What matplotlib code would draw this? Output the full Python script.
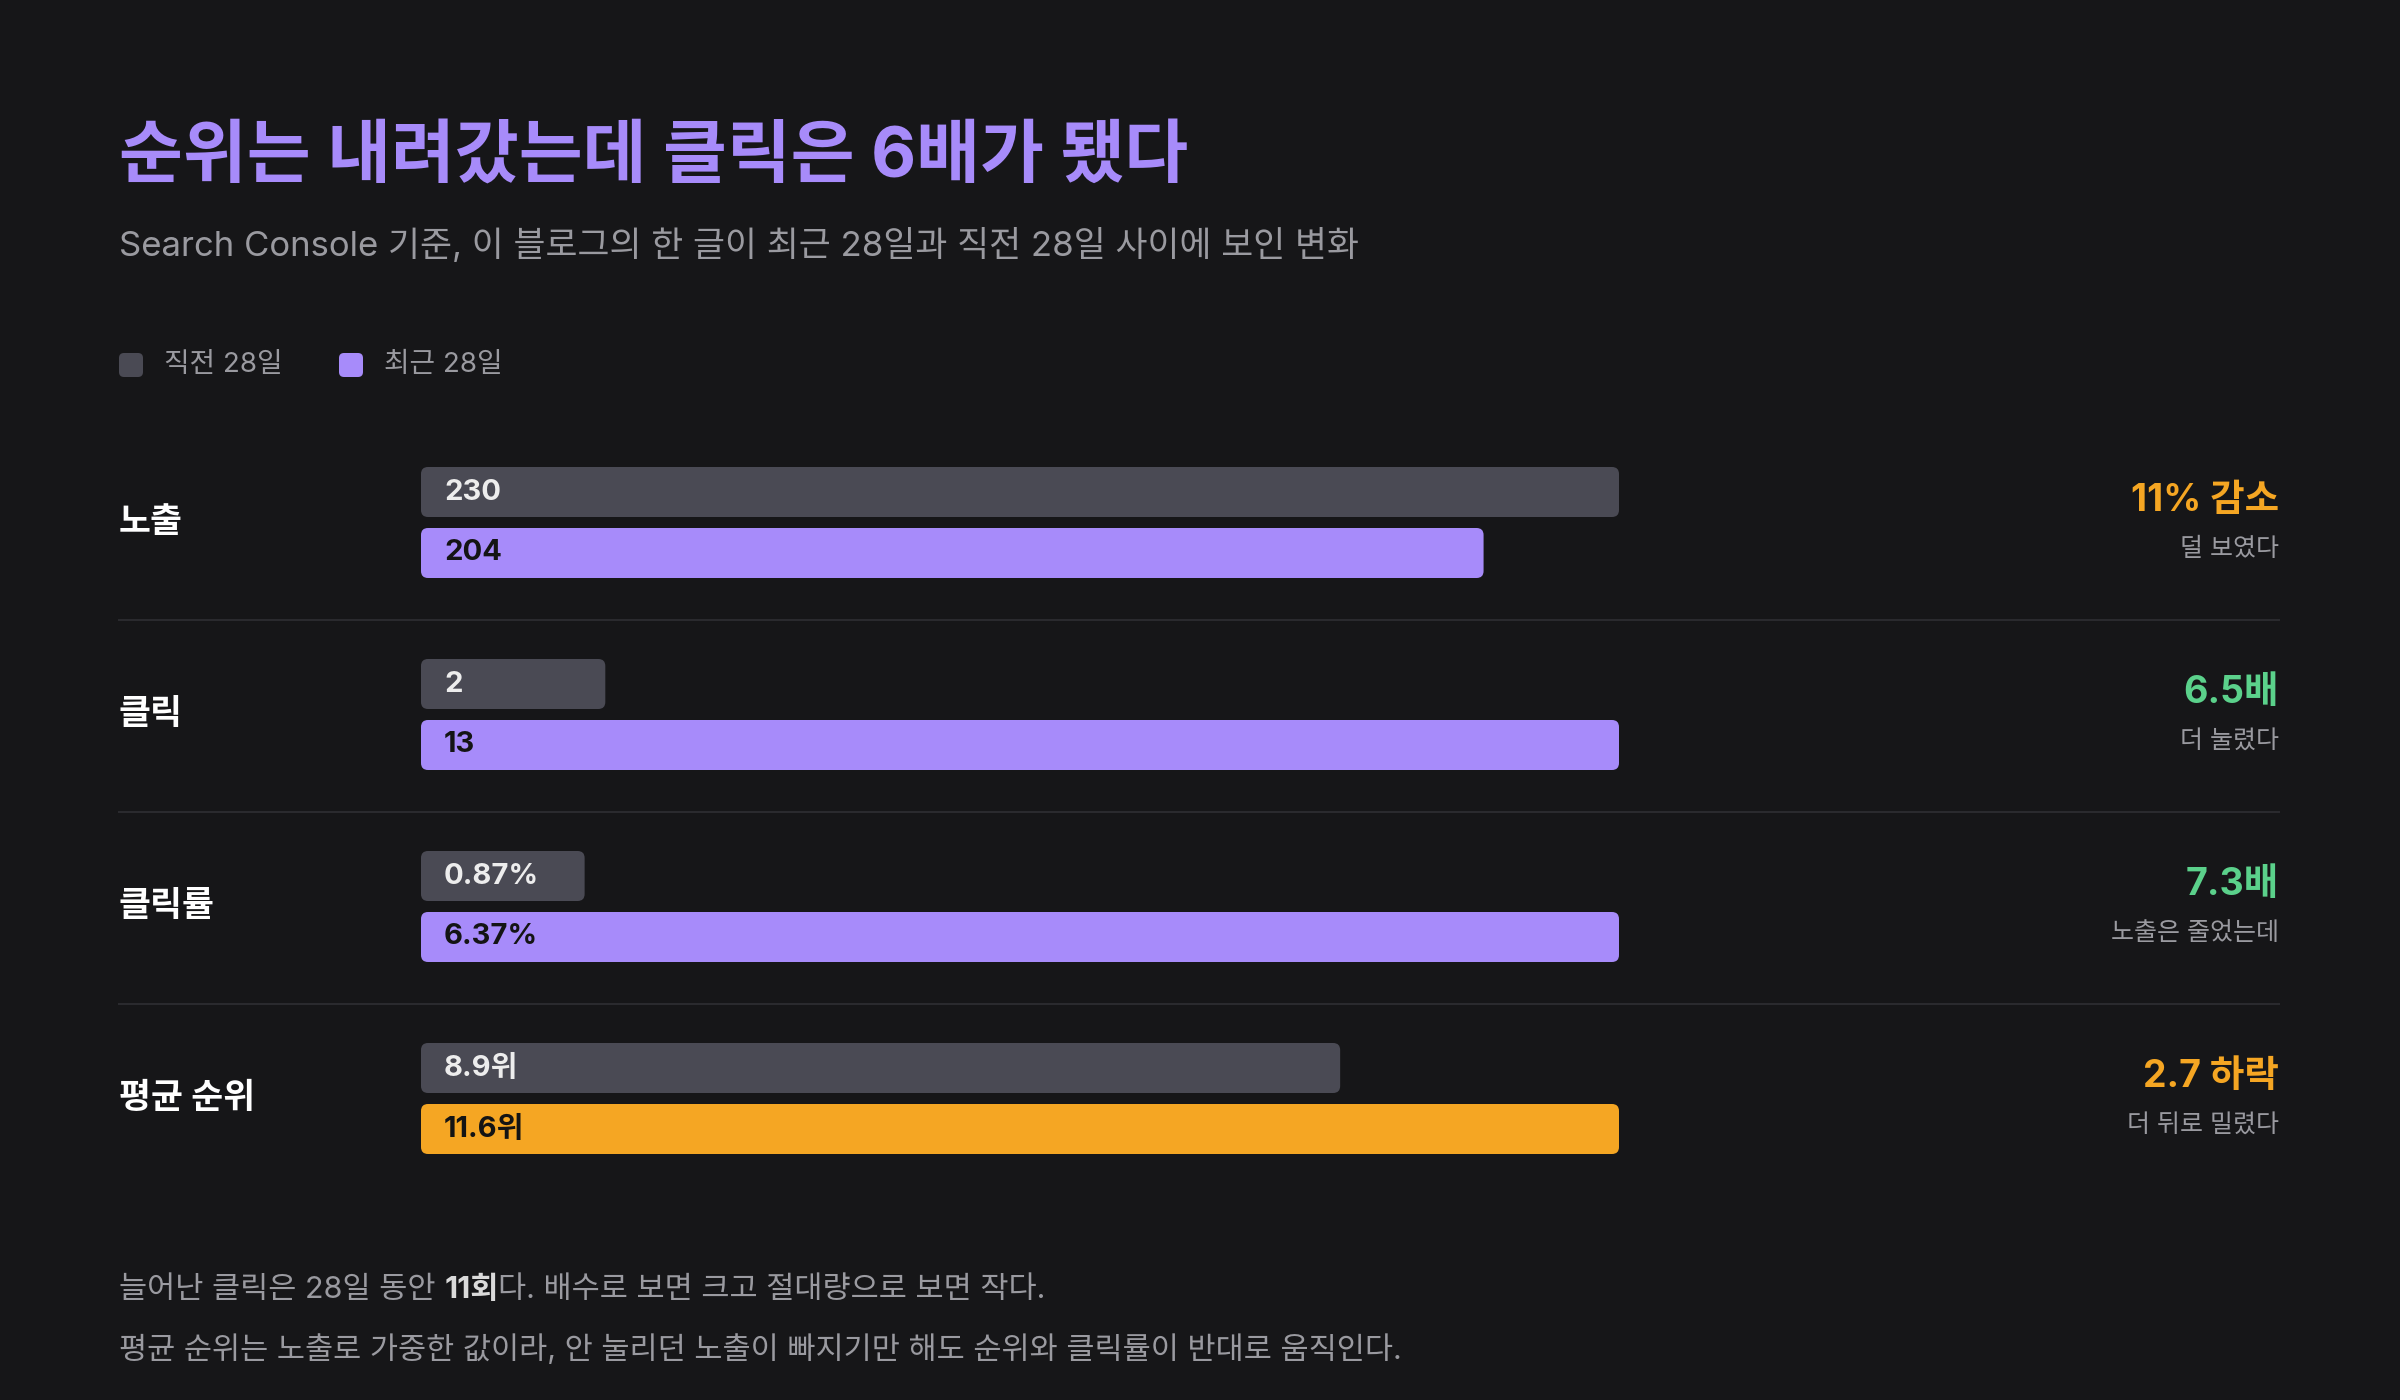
import matplotlib
matplotlib.use("Agg")
import matplotlib.pyplot as plt
from matplotlib.patches import FancyBboxPatch

plt.rcParams['font.family'] = ['Inter', 'Noto Sans CJK KR', 'DejaVu Sans']

metrics = ["노출", "클릭", "클릭률", "평균 순위"]
prev_vals = [230, 2, 0.87, 8.9]
curr_vals = [204, 13, 6.37, 11.6]
prev_labels = ["230", "2", "0.87%", "8.9위"]
curr_labels = ["204", "13", "6.37%", "11.6위"]
change_main = ["11% 감소", "6.5배", "7.3배", "2.7 하락"]
change_sub = ["덜 보였다", "더 눌렸다", "노출은 줄었는데", "더 뒤로 밀렸다"]
change_kind = ["bad", "good", "good", "bad"]
legend_labels = ["직전 28일", "최근 28일"]

BG = "#161618"; PURPLE = "#A78BFA"; GREY_BAR = "#4A4A54"; ORANGE = "#F5A623"
GREEN = "#5BD18B"; TXT = "#EDEDED"; SUB = "#9A9AA0"; SEP = "#2A2A2E"

fig = plt.figure(figsize=(24, 14), dpi=100, facecolor=BG)
ax = fig.add_axes([0, 0, 1, 1])
ax.set_xlim(0, 2400); ax.set_ylim(1400, 0); ax.axis("off")
ax.set_facecolor(BG)

L, R = 119, 2279
ax.text(L, 158, "순위는 내려갔는데 클릭은 6배가 됐다", fontsize=50, fontweight="bold",
        color=PURPLE, va="center")
ax.text(L, 246, "Search Console 기준, 이 블로그의 한 글이 최근 28일과 직전 28일 사이에 보인 변화",
        fontsize=25, color=SUB, va="center")

# legend
lx = L
for lab, col in zip(legend_labels, [GREY_BAR, PURPLE]):
    ax.add_patch(FancyBboxPatch((lx, 353), 24, 24, boxstyle="round,pad=0,rounding_size=5",
                                fc=col, ec="none"))
    t = ax.text(lx + 45, 365, lab, fontsize=20, color=SUB, va="center")
    lx += 220

bx0, bw, bh = 421, 1198, 50
row0, step = 467, 192
for i, m in enumerate(metrics):
    top = row0 + i * step
    mx = max(prev_vals[i], curr_vals[i])
    for j, (v, lab) in enumerate([(prev_vals[i], prev_labels[i]), (curr_vals[i], curr_labels[i])]):
        y = top + j * 61
        if j == 0:
            col, tc = GREY_BAR, TXT
        else:
            col = ORANGE if i == 3 else PURPLE
            tc = "#141414"
        w = v / mx * bw
        ax.add_patch(FancyBboxPatch((bx0, y), w, bh, boxstyle="round,pad=0,rounding_size=7",
                                    fc=col, ec="none"))
        ax.text(bx0 + 23, y + bh / 2, lab, fontsize=21, fontweight="bold", color=tc, va="center")
    cy = top + 56
    ax.text(L, cy, m, fontsize=25, fontweight="bold", color="white", va="center")
    ccol = GREEN if change_kind[i] == "good" else ORANGE
    ax.text(R, cy - 22, change_main[i], fontsize=27, fontweight="bold", color=ccol,
            va="center", ha="right")
    ax.text(R, cy + 26, change_sub[i], fontsize=18, color=SUB, va="center", ha="right")
    if i < 3:
        ax.plot([L, R], [top + 153, top + 153], color=SEP, lw=1.5)

# footer
fig.canvas.draw()
rend = fig.canvas.get_renderer()
segs = [("늘어난 클릭은 28일 동안 ", "normal", SUB), ("11회", "bold", "#DADADA"),
        ("다. 배수로 보면 크고 절대량으로 보면 작다.", "normal", SUB)]
x = L
for s, wgt, c in segs:
    t = ax.text(x, 1290, s, fontsize=22, fontweight=wgt, color=c, va="center")
    bb = t.get_window_extent(renderer=rend)
    x += bb.width
ax.text(L, 1350, "평균 순위는 노출로 가중한 값이라, 안 눌리던 노출이 빠지기만 해도 순위와 클릭률이 반대로 움직인다.",
        fontsize=22, color=SUB, va="center")

fig.savefig("out.png", dpi=100, facecolor=BG)
